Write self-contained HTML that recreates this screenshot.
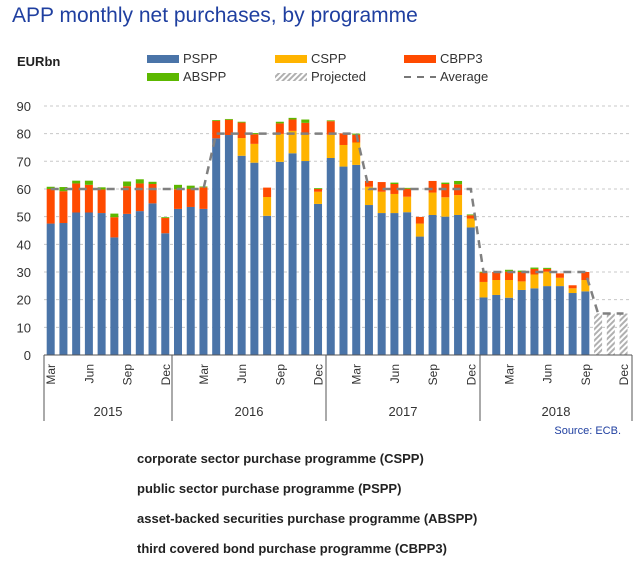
<!DOCTYPE html>
<html><head><meta charset="utf-8"><style>
body{margin:0;background:#fff;width:636px;height:564px;overflow:hidden;font-family:"Liberation Sans",sans-serif}
svg text{font-family:"Liberation Sans",sans-serif}
</style></head><body>
<svg id="c" width="636" height="564" viewBox="0 0 636 564" xmlns="http://www.w3.org/2000/svg">
<defs><pattern id="hatch" width="4" height="4" patternUnits="userSpaceOnUse" patternTransform="rotate(45)"><rect width="4" height="4" fill="#fff"/><rect width="2" height="4" fill="#b0b0b0"/></pattern></defs>
<text x="12" y="22" font-size="21" fill="#1f3fa0">APP monthly net purchases, by programme</text>
<text x="17" y="66" font-size="13" font-weight="bold" fill="#222">EURbn</text>
<g id="legend" font-size="13" fill="#333">
<g><rect x="147" y="55" width="32" height="8" fill="#4a74a8"/><text x="183" y="63">PSPP</text></g>
<g><rect x="275" y="55" width="32" height="8" fill="#ffb400"/><text x="311" y="63">CSPP</text></g>
<g><rect x="404" y="55" width="32" height="8" fill="#ff4a00"/><text x="440" y="63">CBPP3</text></g>
<g><rect x="147" y="73" width="32" height="8" fill="#5cb800"/><text x="183" y="81">ABSPP</text></g>
<g><rect x="275" y="73" width="32" height="8" fill="url(#hatch)"/><text x="311" y="81">Projected</text></g>
<g><line x1="404" y1="77" x2="436" y2="77" stroke="#777" stroke-width="2" stroke-dasharray="7,6"/><text x="440" y="81">Average</text></g>
</g>
<g id="grid"></g><g id="bars"></g><g id="avg"></g><g id="axes"></g>
<text x="621" y="434" font-size="11" fill="#1f3fa0" text-anchor="end">Source: ECB.</text>
<g font-size="13" font-weight="bold" fill="#222">
<text x="137" y="463">corporate sector purchase programme (CSPP)</text>
<text x="137" y="493">public sector purchase programme (PSPP)</text>
<text x="137" y="523">asset-backed securities purchase programme (ABSPP)</text>
<text x="137" y="553">third covered bond purchase programme (CBPP3)</text>
</g>
</svg>
<script>
const months=["Mar","Apr","May","Jun","Jul","Aug","Sep","Oct","Nov","Dec","Jan","Feb","Mar","Apr","May","Jun","Jul","Aug","Sep","Oct","Nov","Dec","Jan","Feb","Mar","Apr","May","Jun","Jul","Aug","Sep","Oct","Nov","Dec","Jan","Feb","Mar","Apr","May","Jun","Jul","Aug","Sep","Oct","Nov","Dec"];
const years=["2015","2016","2017","2018"];
const pspp=[47.5,47.7,51.5,51.5,51.3,42.5,51,52,54.8,44,52.8,53.5,52.8,78.3,79.5,72,69.5,50.3,69.8,72.9,70.1,54.6,71.2,68.1,68.7,54.2,51.3,51.3,51.6,42.8,50.6,50,50.6,46.1,20.8,21.7,20.7,23.5,24.1,24.9,24.9,22.4,23,0,0,0];
const cspp=[0,0,0,0,0,0,0,0,0,0,0,0,0,0,0,6.4,6.8,6.8,10.1,8.1,9.5,4.4,8.4,7.8,8.1,6.6,7.7,6.9,5.6,4.7,8.1,7,7.2,3.2,5.6,5.4,6.4,3.1,5,5.2,3,1.7,4.1,0,0,0];
const cbpp3=[12.5,11.5,10.5,10,8.5,7.3,10,10,7,5.5,7.1,6.5,7.8,6.3,5.5,5.6,3.5,3.4,3.8,4.1,4.3,1,4.9,4.2,2.8,2.1,3.5,3.6,2.9,2.4,4.2,4.8,3.9,1.2,3.4,2.9,3,3.4,2,1,1.6,1.1,2.9,0,0,0];
const abspp=[0.8,1.5,1,1.5,0.8,1.3,1.7,1.5,0.8,0.3,1.6,1.2,0.3,0.3,0.3,0.3,0.4,0,0.6,0.6,1.2,0.3,0.3,0,0.4,0,0,0.5,0.3,0,0,0.5,1.2,0.3,0.3,0,0.7,0.5,0.5,0.4,0,0,0,0,0,0];
const projected=[0,0,0,0,0,0,0,0,0,0,0,0,0,0,0,0,0,0,0,0,0,0,0,0,0,0,0,0,0,0,0,0,0,0,0,0,0,0,0,0,0,0,0,15,15,15];
const average=[60,60,60,60,60,60,60,60,60,60,60,60,60,80,80,80,80,80,80,80,80,80,80,80,80,60,60,60,60,60,60,60,60,60,30,30,30,30,30,30,30,30,30,15,15,15];
const yTicks=[0,10,20,30,40,50,60,70,80,90];
const NS="http://www.w3.org/2000/svg";
const X0=44,X1=632,Y0=355,YS=2.767,STEP=12.73,BW=8;
function y(v){return Y0-v*YS;}
function xc(i){return 50.7+i*STEP;}
function mk(t,a,p){const e=document.createElementNS(NS,t);for(const k in a)e.setAttribute(k,a[k]);p.appendChild(e);return e;}
const grid=document.getElementById('grid'),bars=document.getElementById('bars'),avg=document.getElementById('avg'),axes=document.getElementById('axes');
yTicks.forEach(v=>{
 if(v>0){const l=mk('line',{x1:X0,x2:X1,y1:y(v),y2:y(v),stroke:'#c8c8c8','stroke-dasharray':'3,3'},grid);
 
 }
 const t=mk('text',{x:31,y:y(v)+5,'font-size':13,'text-anchor':'end',fill:'#333'},axes);t.textContent=v;
 
 
});
const series=[[pspp,'#4a74a8','pspp'],[cspp,'#ffb400','cspp'],[cbpp3,'#ff4a00','cbpp3'],[abspp,'#5cb800','abspp'],[projected,'url(#hatch)','projected']];
months.forEach((m,i)=>{
 let base=0;
 series.forEach(([arr,col,nm])=>{
  const v=arr[i];if(v<=0)return;
  const r=mk('rect',{x:xc(i)-BW/2,y:y(base+v),width:BW,height:v*YS,fill:col},bars);
  
  
  base+=v;
 });
 if(i%3===0){
  const t=mk('text',{transform:`translate(${xc(i)+4.5},${Y0+9}) rotate(-90)`,'font-size':12,'text-anchor':'end',fill:'#333'},axes);
  t.textContent=m;
  
  
 }
});
let d='';average.forEach((v,i)=>{d+=(i?'L':'M')+xc(i)+','+y(v);});
const p=mk('path',{d:d,fill:'none',stroke:'#808080','stroke-width':2.5,'stroke-dasharray':'8,6'},avg);


const ax=mk('line',{x1:X0,x2:X1,y1:Y0,y2:Y0,stroke:'#555'},axes);


const seps=[X0,172,326,480,X1];
seps.forEach(sx=>{const l=mk('line',{x1:sx,x2:sx,y1:Y0,y2:421,stroke:'#555'},axes);
 
 });
years.forEach((yr,k)=>{const t=mk('text',{x:(seps[k]+seps[k+1])/2,y:416,'font-size':13,'text-anchor':'middle',fill:'#333'},axes);
 t.textContent=yr;
 
 });
</script>
</body></html>
